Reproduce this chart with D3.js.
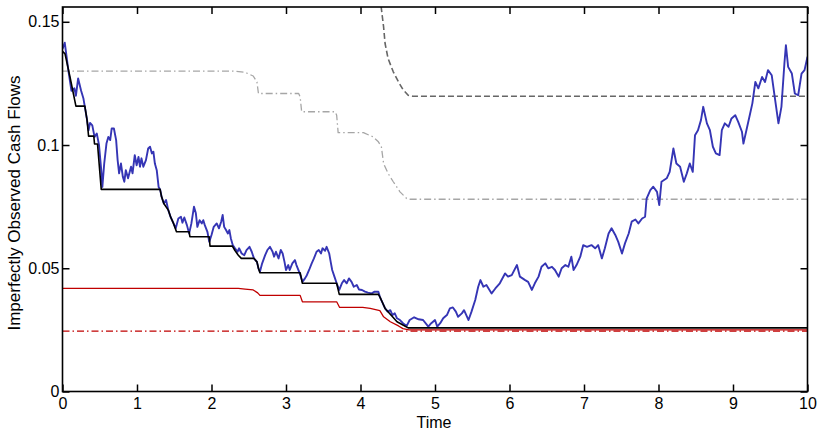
<!DOCTYPE html>
<html>
<head>
<meta charset="utf-8">
<script src="https://cdn.jsdelivr.net/npm/d3@7"></script>
<style>
  body { margin: 0; background: #fff; }
  svg { display: block; font-family: "Liberation Sans", Arial, sans-serif; }
</style>
</head>
<body>
<svg id="chart" width="818" height="431"></svg>
<script>
// tick labels
var xTicks = [0, 1, 2, 3, 4, 5, 6, 7, 8, 9, 10];
var yTicks = [0, 0.05, 0.1, 0.15];
var yTickLabels = ["0", "0.05", "0.1", "0.15"];

// observed cash flow path (time, value)
var cashFlow = [
  [0,0.139],[0.03,0.1415],[0.05,0.137],[0.08,0.130],[0.12,0.122],[0.16,0.123],[0.18,0.120],[0.21,0.127],
  [0.25,0.122],[0.28,0.119],[0.30,0.1155],[0.325,0.111],[0.35,0.106],[0.37,0.109],[0.40,0.108],[0.43,0.1033],
  [0.46,0.1047],[0.49,0.100],[0.52,0.0898],[0.535,0.083],[0.56,0.0925],[0.59,0.1006],[0.615,0.1033],[0.64,0.102],
  [0.66,0.1067],[0.69,0.1067],[0.72,0.102],[0.74,0.0939],[0.76,0.0885],[0.785,0.0925],[0.81,0.0871],[0.83,0.0851],
  [0.85,0.0898],[0.88,0.0865],[0.92,0.0912],[0.94,0.0885],[0.97,0.0959],[0.995,0.0918],[1.02,0.0952],[1.04,0.0912],
  [1.06,0.0946],[1.085,0.0912],[1.12,0.0939],[1.15,0.0986],[1.175,0.0993],[1.20,0.0966],[1.22,0.0973],[1.24,0.0925],
  [1.265,0.0898],[1.29,0.083],[1.31,0.082],[1.33,0.079],[1.36,0.0763],[1.39,0.0777],[1.42,0.0736],[1.45,0.0709],
  [1.49,0.0682],[1.52,0.0662],[1.555,0.0702],[1.59,0.0709],[1.61,0.0685],[1.635,0.0706],[1.67,0.0675],[1.70,0.0641],
  [1.73,0.0682],[1.765,0.075],[1.79,0.0723],[1.81,0.0668],[1.84,0.0695],[1.87,0.0682],[1.89,0.0695],[1.91,0.0675],
  [1.945,0.0648],[1.97,0.0607],[2.00,0.0635],[2.03,0.0668],[2.07,0.0682],[2.10,0.0662],[2.13,0.0689],[2.15,0.0716],
  [2.17,0.0668],[2.195,0.0655],[2.22,0.0641],[2.24,0.0655],[2.26,0.0621],[2.285,0.0594],[2.315,0.0581],[2.35,0.0567],
  [2.37,0.0581],[2.405,0.056],[2.44,0.0553],[2.47,0.0574],[2.51,0.0587],[2.54,0.0567],[2.57,0.054],[2.61,0.0526],
  [2.63,0.050],[2.65,0.0486],[2.68,0.052],[2.72,0.0553],[2.75,0.0574],[2.785,0.0587],[2.82,0.0567],[2.84,0.0547],
  [2.865,0.0567],[2.90,0.054],[2.93,0.0574],[2.955,0.056],[2.98,0.0526],[3.00,0.0493],[3.03,0.0513],[3.05,0.0493],
  [3.085,0.052],[3.12,0.0533],[3.14,0.0513],[3.175,0.0486],[3.20,0.0466],[3.22,0.0445],[3.255,0.0459],[3.28,0.0472],
  [3.31,0.0493],[3.345,0.052],[3.375,0.054],[3.41,0.0567],[3.44,0.0574],[3.47,0.056],[3.49,0.0581],[3.525,0.0571],
  [3.545,0.0587],[3.58,0.056],[3.60,0.0526],[3.62,0.0493],[3.65,0.0466],[3.68,0.0439],[3.715,0.0412],[3.75,0.0439],
  [3.78,0.0452],[3.815,0.0439],[3.845,0.0459],[3.88,0.0445],[3.91,0.0425],[3.95,0.0432],[3.98,0.0414],[4.02,0.0412],
  [4.06,0.0405],[4.10,0.0401],[4.15,0.0398],[4.19,0.0405],[4.24,0.0405],[4.26,0.0384],[4.29,0.0364],[4.33,0.0337],
  [4.365,0.0324],[4.40,0.033],[4.43,0.031],[4.46,0.0317],[4.49,0.0297],[4.53,0.029],[4.57,0.0277],[4.62,0.0266],
  [4.66,0.029],[4.72,0.0301],[4.78,0.0293],[4.84,0.029],[4.91,0.0263],[4.95,0.0277],[5.00,0.029],[5.03,0.0263],
  [5.07,0.0277],[5.11,0.0297],[5.16,0.031],[5.20,0.0337],[5.24,0.0341],[5.28,0.0324],[5.31,0.0303],[5.36,0.0317],
  [5.39,0.033],[5.42,0.031],[5.45,0.029],[5.49,0.0324],[5.54,0.0371],[5.58,0.0425],[5.61,0.0452],[5.65,0.0425],
  [5.69,0.0432],[5.76,0.0398],[5.81,0.0418],[5.87,0.0439],[5.94,0.0479],[5.98,0.0466],[6.03,0.0472],[6.10,0.0513],
  [6.14,0.0466],[6.21,0.0452],[6.25,0.0445],[6.30,0.0412],[6.34,0.0439],[6.39,0.0466],[6.43,0.0506],[6.48,0.052],
  [6.52,0.050],[6.57,0.0506],[6.61,0.0493],[6.66,0.0466],[6.70,0.050],[6.75,0.0513],[6.79,0.0506],[6.83,0.0547],
  [6.86,0.0493],[6.90,0.0513],[6.95,0.0547],[6.99,0.0594],[7.04,0.0587],[7.10,0.0594],[7.15,0.0581],[7.19,0.0594],
  [7.24,0.054],[7.28,0.0581],[7.33,0.0641],[7.37,0.0662],[7.42,0.0635],[7.46,0.0607],[7.51,0.056],[7.55,0.0601],
  [7.60,0.0641],[7.64,0.0689],[7.69,0.0698],[7.73,0.0682],[7.78,0.0702],[7.82,0.0709],[7.84,0.0783],[7.89,0.0817],
  [7.93,0.0831],[7.98,0.081],[8.01,0.0756],[8.04,0.0851],[8.11,0.0865],[8.15,0.0891],[8.20,0.0986],[8.24,0.0925],
  [8.29,0.0912],[8.34,0.0851],[8.38,0.0885],[8.42,0.0925],[8.46,0.0891],[8.49,0.104],[8.53,0.106],[8.57,0.1101],
  [8.60,0.1155],[8.65,0.1088],[8.69,0.106],[8.73,0.0993],[8.77,0.0966],[8.82,0.0959],[8.85,0.106],[8.89,0.1088],
  [8.94,0.1074],[8.98,0.1108],[9.03,0.1121],[9.07,0.1094],[9.12,0.1054],[9.14,0.1006],[9.18,0.106],[9.23,0.1128],
  [9.26,0.1169],[9.30,0.1256],[9.34,0.123],[9.39,0.1276],[9.43,0.1256],[9.47,0.1304],[9.52,0.1283],[9.56,0.1195],
  [9.61,0.1088],[9.65,0.1155],[9.69,0.1331],[9.71,0.1405],[9.74,0.1317],[9.79,0.129],[9.83,0.1209],[9.875,0.1202],
  [9.92,0.129],[9.96,0.1304],[10,0.1358]
];

// running minimum of the observed path (time, value)
var runningMin = [
  [0,0.138],[0.034,0.137],[0.10,0.1277],[0.145,0.121],[0.18,0.1158],[0.30,0.1158],[0.33,0.110],[0.35,0.1036],
  [0.42,0.1036],[0.43,0.1004],[0.47,0.1004],[0.52,0.082],[1.31,0.082],[1.33,0.079],[1.36,0.0763],[1.42,0.0736],
  [1.45,0.0709],[1.49,0.0682],[1.53,0.0648],[1.70,0.0648],[1.71,0.0628],[1.97,0.0628],[1.98,0.059],[2.28,0.059],
  [2.315,0.0572],[2.36,0.0553],[2.40,0.054],[2.57,0.054],[2.61,0.0526],[2.63,0.050],[2.65,0.0482],[3.19,0.0482],
  [3.22,0.0439],[3.68,0.0439],[3.715,0.0394],[4.24,0.0394],[4.26,0.0384],[4.29,0.0364],[4.33,0.0337],[4.43,0.0303],
  [4.49,0.0283],[4.57,0.027],[4.64,0.0258],[10,0.0258]
];

// red solid boundary
var redBoundary = [
  [0,0.0418],[2.36,0.0418],[2.45,0.0415],[2.56,0.0412],[2.62,0.040],[2.65,0.039],[3.19,0.039],[3.22,0.0364],
  [3.68,0.0364],[3.72,0.0341],[4.03,0.0341],[4.13,0.0337],[4.26,0.0328],[4.31,0.0303],[4.40,0.0283],[4.51,0.0266],
  [4.57,0.0255],[4.65,0.025],[10,0.025]
];

// red dash-dot constant level
var redLevel = [[0,0.0245],[10,0.0245]];

// light grey dash-dot boundary
var greyBoundary = [
  [0,0.130],[2.29,0.130],[2.45,0.1295],[2.56,0.128],[2.61,0.1256],[2.63,0.1209],[3.17,0.1209],[3.19,0.1195],
  [3.21,0.1135],[3.66,0.1135],[3.68,0.1121],[3.70,0.105],[4.04,0.105],[4.17,0.1033],[4.24,0.1013],[4.28,0.0993],
  [4.31,0.0925],[4.37,0.0885],[4.44,0.0851],[4.53,0.081],[4.62,0.0783],[4.66,0.078],[10,0.078]
];

// dark grey dashed boundary
var darkBoundary = [
  [4.27,0.16],[4.28,0.1554],[4.31,0.1479],[4.33,0.1412],[4.37,0.1351],[4.44,0.1297],[4.51,0.1256],[4.57,0.1225],
  [4.64,0.1202],[4.70,0.1198],[10,0.1198]
];

var plotLeft = 62.5, plotRight = 807.5, plotTop = 7, plotBottom = 391.5;

var svg = d3.select("#chart");
var x = d3.scaleLinear().domain([0, 10]).range([plotLeft, plotRight]);
var y = d3.scaleLinear().domain([0, 0.156]).range([plotBottom, plotTop]);

svg.append("clipPath").attr("id", "plotClip")
  .append("rect").attr("x", plotLeft).attr("y", plotTop)
  .attr("width", plotRight - plotLeft).attr("height", plotBottom - plotTop);

var line = d3.line().x(function(d){ return x(d[0]); }).y(function(d){ return y(d[1]); });

var plot = svg.append("g").attr("clip-path", "url(#plotClip)");

var series = [
  { data: redLevel, color: "#c00000", width: 1.2, dash: "7,3,1.5,3" },
  { data: greyBoundary, color: "#a6a6a6", width: 1.3, dash: "7,3,1.5,3" },
  { data: darkBoundary, color: "#666666", width: 1.6, dash: "6,3" },
  { data: cashFlow, color: "#3535b5", width: 1.9, dash: null },
  { data: redBoundary, color: "#c00000", width: 1.3, dash: null },
  { data: runningMin, color: "#000000", width: 1.6, dash: null }
];

plot.selectAll("path.series")
  .data(series)
  .enter()
  .append("path")
  .attr("class", "series")
  .attr("d", function(s){ return line(s.data); })
  .attr("fill", "none")
  .attr("stroke", function(s){ return s.color; })
  .attr("stroke-width", function(s){ return s.width; })
  .attr("stroke-dasharray", function(s){ return s.dash; })
  .attr("stroke-linejoin", "round");

// axes with inward ticks on all four sides
var tick = 7;
svg.append("g").attr("transform", "translate(0," + plotBottom + ")")
  .call(d3.axisBottom(x).tickValues(xTicks).tickSizeInner(-tick).tickSizeOuter(0).tickPadding(6).tickFormat(d3.format("d")));
svg.append("g").attr("transform", "translate(0," + plotTop + ")")
  .call(d3.axisTop(x).tickValues(xTicks).tickSizeInner(-tick).tickSizeOuter(0).tickFormat(""));
svg.append("g").attr("transform", "translate(" + plotLeft + ",0)")
  .call(d3.axisLeft(y).tickValues(yTicks).tickSizeInner(-tick).tickSizeOuter(0).tickPadding(3)
    .tickFormat(function(d, i){ return yTickLabels[i]; }));
svg.append("g").attr("transform", "translate(" + plotRight + ",0)")
  .call(d3.axisRight(y).tickValues(yTicks).tickSizeInner(-tick).tickSizeOuter(0).tickFormat(""));

svg.selectAll(".domain").remove();
svg.selectAll(".tick line").attr("stroke", "#000").attr("stroke-width", 1.5);
svg.selectAll(".tick text").attr("font-size", 16).attr("fill", "#000")
  .attr("font-family", "'Liberation Sans', Arial, sans-serif");

svg.append("rect")
  .attr("x", plotLeft).attr("y", plotTop)
  .attr("width", plotRight - plotLeft).attr("height", plotBottom - plotTop)
  .attr("fill", "none").attr("stroke", "#000").attr("stroke-width", 1.6);

svg.append("text")
  .attr("x", 434).attr("y", 428)
  .attr("text-anchor", "middle").attr("font-size", 16)
  .text("Time");

svg.append("text")
  .attr("transform", "translate(20,203) rotate(-90)")
  .attr("text-anchor", "middle").attr("font-size", 17)
  .text("Imperfectly Observed Cash Flows");
</script>
</body>
</html>
